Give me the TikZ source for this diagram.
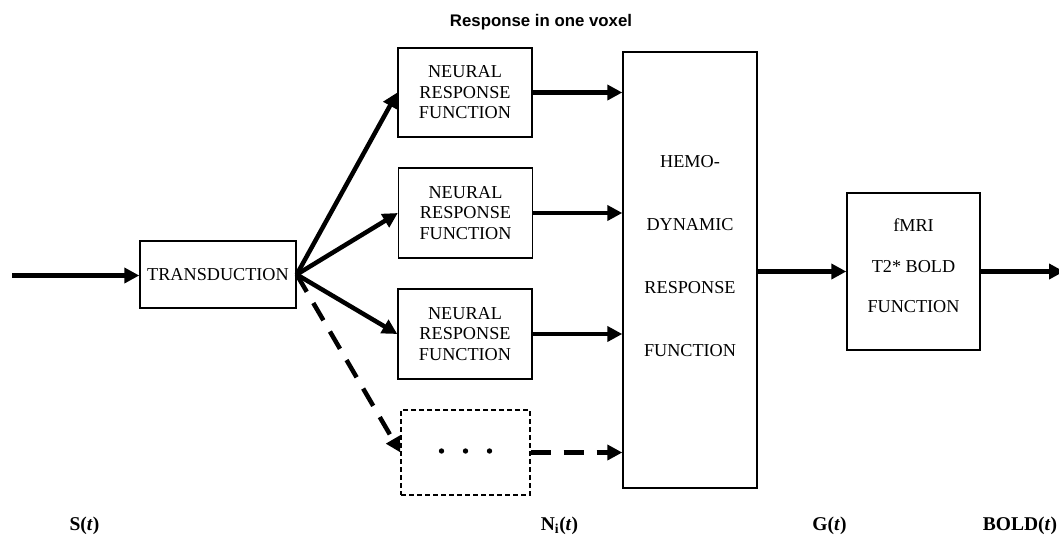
\documentclass[tikz,border=0pt]{standalone}
\usepackage{fontspec}
\setmainfont{Liberation Serif}
\newfontfamily\titlefont{Liberation Sans}
\usetikzlibrary{arrows.meta}
\begin{document}
\begin{tikzpicture}[x=1pt,y=-1pt,
  box/.style={draw, line width=1.4pt, align=center, inner sep=0pt, font=\fontsize{18.2}{20.5}\selectfont},
  boxtext/.style={align=center, inner sep=0pt},
  flow/.style={line width=4.5pt, -{Triangle[length=15pt,width=15pt]}},
  dflow/.style={flow, dash pattern=on 20pt off 13pt},
  lab/.style={anchor=base, inner sep=0pt, font=\fontsize{19.5}{22}\selectfont\bfseries}]
\useasboundingbox (0,0) rectangle (1059,536);
\node[font=\titlefont\bfseries\fontsize{16.8}{20}\selectfont] (title) at (541,22) {Response in one voxel};

\node[box, minimum width=156pt, minimum height=67pt] (trans) at (218,274.5) {TRANSDUCTION};
\node[box, minimum width=134pt, minimum height=89pt] (n1) at (465,92.5) {NEURAL\\RESPONSE\\FUNCTION};
\node[box, minimum width=134pt, minimum height=90pt] (n2) at (465.5,213) {NEURAL\\RESPONSE\\FUNCTION};
\node[box, minimum width=134pt, minimum height=90pt] (n3) at (465,334) {NEURAL\\RESPONSE\\FUNCTION};
\node[draw, line width=1.2pt, dash pattern=on 5pt off 3pt, minimum width=129pt, minimum height=85pt, inner sep=0pt] (dots) at (465.5,452.5) {};
\fill (dots.center) ++(-24,-1.5) circle (2.7pt);
\fill (dots.center) ++(0,-1.5) circle (2.7pt);
\fill (dots.center) ++(24,-1.5) circle (2.7pt);

\node[box, minimum width=134pt, minimum height=436pt] (hemo) at (690,270) {};
\node[boxtext, font=\fontsize{18.2}{63}\selectfont] (hemotext) at (690,256.5) {HEMO-\\DYNAMIC\\RESPONSE\\FUNCTION};

\node[box, minimum width=133pt, minimum height=157pt] (fmri) at (913.5,271.5) {};
\node[boxtext, font=\fontsize{18.2}{40.5}\selectfont] (fmritext) at (913.5,266) {fMRI\\T2* BOLD\\FUNCTION};

\coordinate (in) at (12,275.5);
\coordinate (out) at (1064,271.5);
\draw[flow] (in) -- (trans.west |- in);
\draw[flow] (trans.east) -- (n1.west);
\draw[flow] (trans.east) -- (n2.west);
\draw[flow] (trans.east) -- (n3.west);
\draw[dflow] (trans.east) -- (dots.west);
\draw[flow] (n1.east) -- (n1.east -| hemo.west);
\draw[flow] (n2.east) -- (n2.east -| hemo.west);
\draw[flow] (n3.east) -- (n3.east -| hemo.west);
\draw[dflow] (dots.east) -- (dots.east -| hemo.west);
\draw[flow] (fmri.west -| hemo.east) -- (fmri.west);
\draw[flow] (fmri.east) -- (out);

\node[lab] (s) at (84.5,530) {S(\textit{t})};
\node[lab] (ni) at (559.5,530) {N\textsubscript{i}(\textit{t})};
\node[lab] (g) at (829.5,530) {G(\textit{t})};
\node[lab] (bold) at (1020,530) {BOLD(\textit{t})};
\end{tikzpicture}
\end{document}
